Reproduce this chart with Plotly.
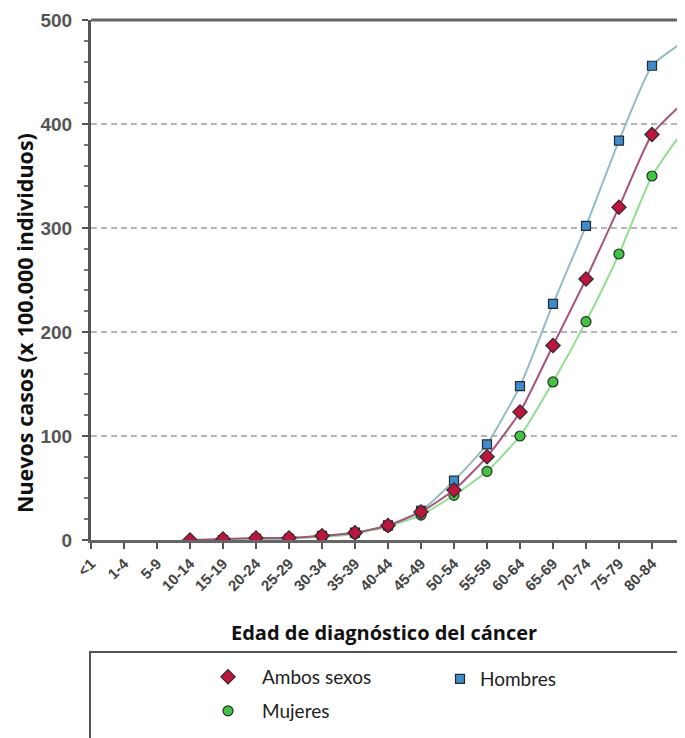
import plotly.graph_objects as go

categories = ["<1", "1-4", "5-9", "10-14", "15-19", "20-24", "25-29", "30-34", "35-39",
              "40-44", "45-49", "50-54", "55-59", "60-64", "65-69", "70-74", "75-79",
              "80-84", "85+"]
ambos = [None, None, None, 0, 1, 2, 2, 4, 7, 14, 27, 48, 80, 123, 187, 251, 320, 390, 422]
hombres = [None, None, None, None, 0, 1, 1, 4, 7, 14, 28, 57, 92, 148, 227, 302, 384, 456, 480]
mujeres = [None, None, None, None, 0, 1, 2, 3, 6, 13, 24, 43, 66, 100, 152, 210, 275, 350, 396]
y_ticks = [0, 100, 200, 300, 400, 500]

# page has an 8px body margin, so the figure is slightly smaller than the window
W, H = 677, 730
L, T, R = 83, 12, 0
B = H - 532
# plot area in page pixel coordinates
PX0, PX1, PY0, PY1 = 91, 685, 20, 540


def px(x):
    return (x - PX0) / (PX1 - PX0)


def py(y):
    return (PY1 - y) / (PY1 - PY0)


x_idx = list(range(len(categories)))

fig = go.Figure()


def add(name, vals, line_col, mk_col, symbol, size, legend):
    mk = dict(symbol=symbol, size=size, color=mk_col, line=dict(color="#2a2a2a", width=1.2))
    fig.add_trace(go.Scatter(
        x=x_idx, y=vals, mode="lines", showlegend=False, hoverinfo="skip",
        line=dict(color=line_col, width=2, shape="spline", smoothing=0.5),
    ))
    fig.add_trace(go.Scatter(
        x=x_idx, y=vals, name=name, mode="markers", marker=mk,
        legend=legend, showlegend=True,
    ))


add("Hombres", hombres, "#93bcc4", "#3a8ed0", "square", 9, "legend2")
add("Mujeres", mujeres, "#8ee08e", "#3fc63f", "circle", 10, "legend3")
add("Ambos sexos", ambos, "#a9527f", "#c0143c", "diamond", 11, "legend")

legfont = dict(family="Lato, Open Sans, sans-serif", size=19, color="#222")


def leg(x, y, iw):
    gap = (iw + 10) / 2
    return dict(x=px(x - gap), y=py(y), xanchor="left", yanchor="middle",
                bgcolor="rgba(0,0,0,0)", borderwidth=0, font=legfont,
                itemwidth=iw, itemclick=False)


fig.update_layout(
    width=W, height=H,
    margin=dict(l=L, r=R, t=T, b=B, autoexpand=False),
    paper_bgcolor="white", plot_bgcolor="white",
    showlegend=True,
    legend=leg(228, 677, 58),
    legend2=leg(460, 679, 30),
    legend3=leg(228, 711, 58),
    xaxis=dict(
        range=[0, 18], tickmode="array", tickvals=x_idx, ticktext=categories,
        tickangle=-45, ticks="outside", ticklen=6, tickwidth=1.5, tickcolor="#555",
        showline=True, linecolor="#666", linewidth=3, showgrid=False, zeroline=False,
        tickfont=dict(family="Arial, Liberation Sans, sans-serif", size=15, color="#444",
                      weight="bold"),
    ),
    yaxis=dict(
        range=[0, 500], tickvals=y_ticks,
        ticks="outside", ticklen=6, tickwidth=1.5, tickcolor="#555",
        minor=dict(dtick=20, ticks="outside", ticklen=4, tickcolor="#777", showgrid=False),
        showline=True, linecolor="#555", linewidth=3,
        showgrid=True, gridcolor="#b5b5b5", gridwidth=2, griddash="6px,4px",
        zeroline=False, ticklabelstandoff=6,
        tickfont=dict(family="Arial, Liberation Sans, sans-serif", size=19, color="#555",
                      weight="bold"),
    ),
    annotations=[
        dict(text="<b>Edad de diagnóstico del cáncer</b>", xref="paper", yref="paper",
             x=px(384), y=py(632), xanchor="center", yanchor="middle",
             showarrow=False,
             font=dict(family="Open Sans, sans-serif", size=20, color="#111")),
        dict(text="<b>Nuevos casos (x 100.000 individuos)</b>", xref="paper", yref="paper",
             x=px(25), y=py(323), xanchor="center", yanchor="middle", textangle=-90,
             showarrow=False,
             font=dict(family="Open Sans, sans-serif", size=21.5, color="#111")),
    ],
    shapes=[
        dict(type="line", xref="paper", yref="paper", x0=0, x1=1, y0=1, y1=1,
             line=dict(color="#666", width=3)),
        dict(type="rect", xref="paper", yref="paper",
             x0=px(90), x1=px(679), y0=py(652), y1=py(760),
             line=dict(color="#555", width=2)),
    ],
)

fig.write_html("out.html")
